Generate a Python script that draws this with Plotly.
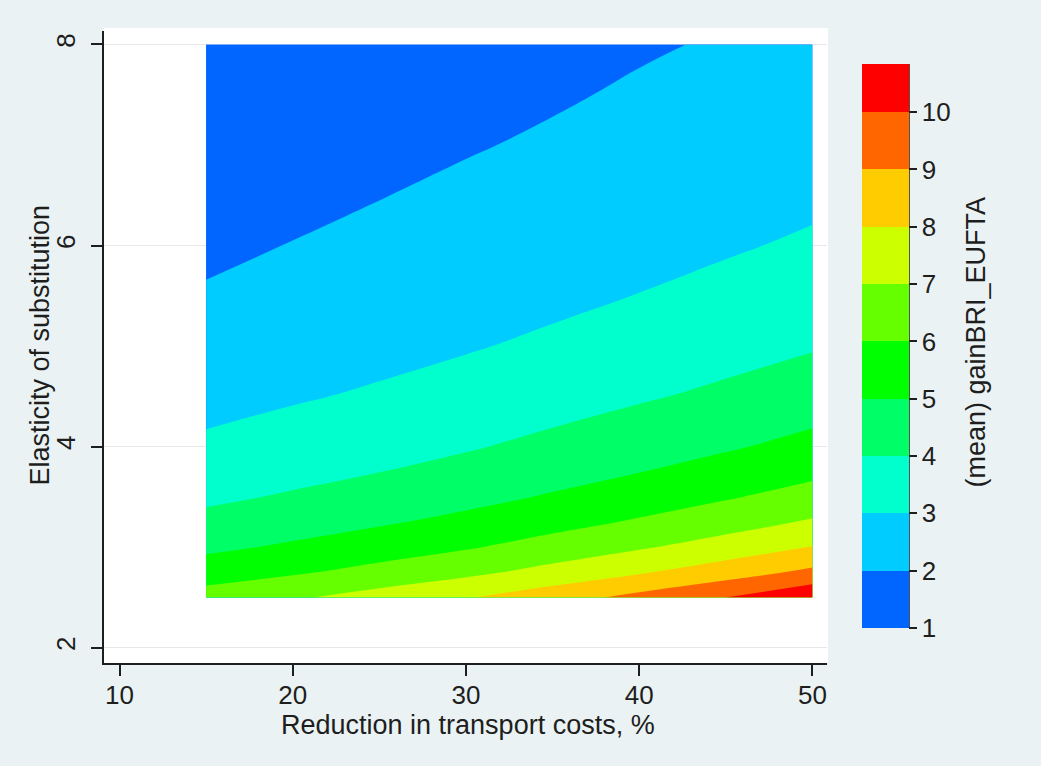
import plotly.graph_objects as go

# ---- data ----
x_vals = [15, 20, 25, 30, 35, 40, 45, 50]          # Reduction in transport costs, %
y_vals = [2.5, 2.75, 3.0, 3.25, 3.5, 3.75, 4.0, 4.5, 5.0, 5.5, 6.0, 6.5, 7.0, 7.5, 8.0]  # Elasticity of substitution

z_y2_50 = [6.44, 6.88, 7.40, 7.93, 8.58, 9.28, 10.00, 10.84]
z_y2_75 = [5.51, 5.88, 6.32, 6.77, 7.33, 7.91, 8.53, 9.23]
z_y3_00 = [4.80, 5.14, 5.51, 5.91, 6.39, 6.90, 7.43, 8.03]
z_y3_25 = [4.26, 4.56, 4.89, 5.25, 5.67, 6.11, 6.58, 7.11]
z_y3_50 = [3.82, 4.10, 4.39, 4.71, 5.09, 5.49, 5.91, 6.38]
z_y3_75 = [3.46, 3.72, 3.99, 4.28, 4.62, 4.98, 5.36, 5.78]
z_y4_00 = [3.16, 3.41, 3.65, 3.92, 4.23, 4.56, 4.90, 5.28]
z_y4_50 = [2.70, 2.91, 3.12, 3.35, 3.62, 3.90, 4.19, 4.51]
z_y5_00 = [2.34, 2.54, 2.72, 2.93, 3.16, 3.40, 3.65, 3.93]
z_y5_50 = [2.07, 2.26, 2.41, 2.60, 2.80, 3.02, 3.24, 3.48]
z_y6_00 = [1.85, 2.02, 2.19, 2.34, 2.52, 2.71, 2.91, 3.12]
z_y6_50 = [1.67, 1.84, 1.98, 2.13, 2.29, 2.46, 2.64, 2.83]
z_y7_00 = [1.52, 1.69, 1.80, 1.95, 2.09, 2.25, 2.41, 2.59]
z_y7_50 = [1.40, 1.55, 1.66, 1.80, 1.93, 2.08, 2.22, 2.39]
z_y8_00 = [1.29, 1.44, 1.54, 1.67, 1.79, 1.93, 2.06, 2.21]

z_rows = [z_y2_50, z_y2_75, z_y3_00, z_y3_25, z_y3_50, z_y3_75, z_y4_00, z_y4_50,
          z_y5_00, z_y5_50, z_y6_00, z_y6_50, z_y7_00, z_y7_50, z_y8_00]

band_colors = ['#0066FF', '#00CCFF', '#00FFCC', '#00FF66', '#00FF00',
               '#66FF00', '#CCFF00', '#FFCC00', '#FF6600', '#FF0000']
cut_start, cut_end, cut_step = 1, 10, 1
z_min_bar = 1.0
z_max_bar = 10.84
cb_ticks = [1, 2, 3, 4, 5, 6, 7, 8, 9, 10]
x_ticks = [10, 20, 30, 40, 50]
y_ticks = [2, 4, 6, 8]

x_title = "Reduction in transport costs, %"
y_title = "Elasticity of substitution"
cb_title = "(mean) gainBRI_EUFTA"

FONT = "Liberation Sans, Arial, sans-serif"
TXT = "#1e1e1e"
BG = "#EAF2F3"
TICK_SIZE = 26
TITLE_SIZE = 27

# plot-area geometry (pixels)
L, R, T, B = 104, 827, 31, 663
PW, PH = R - L, B - T


def px(xp):
    return (xp - L) / PW


def py(yp):
    return (B - yp) / PH


# contour colorscale: band above level k is painted with colour at position k/10
n_bands = len(band_colors)
contour_scale = [[0.0, band_colors[0]]] + [[(k + 1) / n_bands, band_colors[k]] for k in range(n_bands)]

# stepped colorscale for the colorbar, mapped on [z_min_bar, z_max_bar]
edges = list(range(cut_start, cut_end + 1)) + [z_max_bar]
bar_scale = []
for i, c in enumerate(band_colors):
    lo = (edges[i] - z_min_bar) / (z_max_bar - z_min_bar)
    hi = (edges[i + 1] - z_min_bar) / (z_max_bar - z_min_bar)
    bar_scale.append([lo, c])
    bar_scale.append([min(hi, 1.0), c])

fig = go.Figure()

fig.add_trace(go.Contour(
    x=x_vals, y=y_vals, z=z_rows,
    autocontour=False,
    contours=dict(start=cut_start, end=cut_end, size=cut_step,
                  coloring='fill', showlines=False),
    colorscale=contour_scale,
    line=dict(width=0, smoothing=1.3),
    showscale=False,
    hoverinfo='skip',
))

# invisible trace that carries the colorbar
fig.add_trace(go.Scatter(
    x=[x_vals[0]], y=[y_vals[-1]], mode='markers',
    marker=dict(size=1, opacity=0, color=[z_min_bar],
                cmin=z_min_bar, cmax=z_max_bar, colorscale=bar_scale,
                showscale=True,
                colorbar=dict(
                    x=px(862), xanchor='left', xpad=0,
                    y=py(346), yanchor='middle', ypad=0,
                    len=564, lenmode='pixels',
                    thickness=47, thicknessmode='pixels',
                    outlinewidth=0,
                    tickvals=cb_ticks, ticks='outside', ticklen=8,
                    tickwidth=1.5, tickcolor=TXT,
                    tickfont=dict(family=FONT, size=TICK_SIZE, color=TXT),
                )),
    hoverinfo='skip', showlegend=False,
))

shapes = [
    # graph region (light bluish grey)
    dict(type='rect', xref='paper', yref='paper', layer='below',
         x0=px(0), x1=px(1041), y0=py(766), y1=py(0),
         fillcolor=BG, line=dict(width=0)),
    # white plot region
    dict(type='rect', xref='paper', yref='paper', layer='below',
         x0=0, x1=px(828), y0=0, y1=py(28),
         fillcolor='white', line=dict(width=0)),
    # colorbar axis line
    dict(type='line', xref='paper', yref='paper',
         x0=px(909), x1=px(909), y0=py(628), y1=py(64),
         line=dict(color=TXT, width=1.5)),
]

annotations = [
    dict(text=x_title, xref='paper', yref='paper', x=px(467.5), y=py(725),
         xanchor='center', yanchor='middle', showarrow=False,
         font=dict(family=FONT, size=TITLE_SIZE, color=TXT)),
    dict(text=y_title, xref='paper', yref='paper', x=px(39), y=py(345.5),
         xanchor='center', yanchor='middle', showarrow=False, textangle=-90,
         font=dict(family=FONT, size=TITLE_SIZE, color=TXT)),
    dict(text=cb_title, xref='paper', yref='paper', x=px(975), y=py(342.5),
         xanchor='center', yanchor='middle', showarrow=False, textangle=-90,
         font=dict(family=FONT, size=TITLE_SIZE, color=TXT)),
]

fig.update_layout(
    width=1058, height=769, autosize=False,
    margin=dict(l=L, r=1058 - R, t=T, b=769 - B, pad=0),
    paper_bgcolor='white', plot_bgcolor='white',
    showlegend=False,
    shapes=shapes, annotations=annotations,
    font=dict(family=FONT, color=TXT),
    xaxis=dict(range=[9.105, 50.84], tickvals=x_ticks, ticks='outside', ticklen=11,
               tickwidth=1.5, tickcolor=TXT, showline=True, linecolor=TXT, linewidth=1.5,
               showgrid=False, zeroline=False, ticklabelstandoff=-3,
               tickfont=dict(family=FONT, size=TICK_SIZE, color=TXT)),
    yaxis=dict(range=[1.848, 8.134], tickvals=y_ticks, ticks='outside', ticklen=11,
               tickwidth=1.5, tickcolor=TXT, showline=True, linecolor=TXT, linewidth=1.5,
               showgrid=True, gridcolor='#E8E8E8', gridwidth=1, zeroline=False,
               tickangle=-90, ticklabelstandoff=6,
               tickfont=dict(family=FONT, size=TICK_SIZE, color=TXT)),
)

fig.write_html("out.html",
               config={'displayModeBar': False},
               post_script="document.body.style.margin='0px';document.body.style.padding='0px';")
